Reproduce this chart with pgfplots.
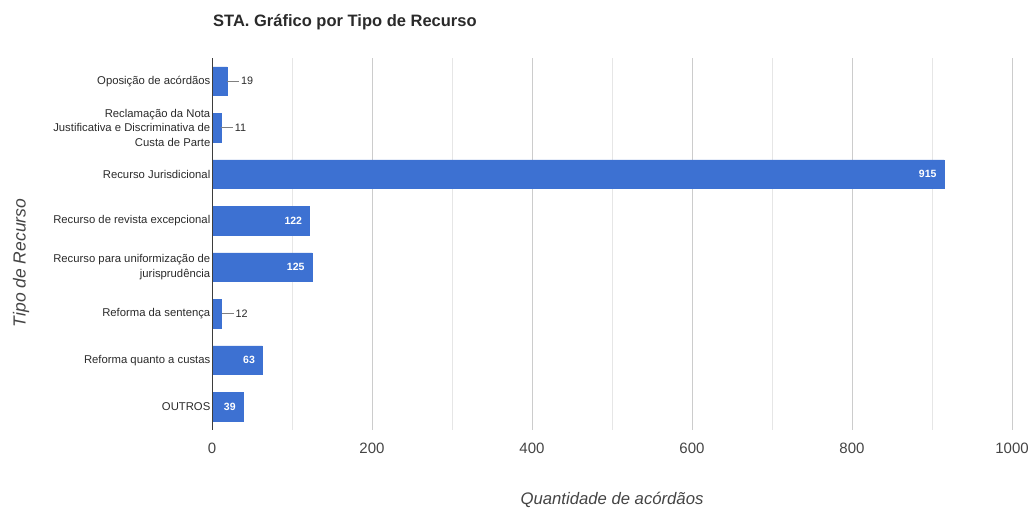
\documentclass[border=0pt]{standalone}
\usepackage{pgfplots}
\pgfplotsset{compat=1.18}
\usepackage{fontspec}
\setmainfont{Liberation Sans}
\definecolor{barblue}{HTML}{3D71D2}
\definecolor{txt}{HTML}{2A2A2A}
\definecolor{ticktxt}{HTML}{444444}
\definecolor{gridc}{HTML}{CCCCCC}
\definecolor{gridm}{HTML}{E6E6E6}
\begin{document}
\begin{tikzpicture}
\path[use as bounding box] (0pt,0pt) rectangle (1032pt,509pt);
\node[anchor=base west,font=\fontsize{16.5}{19}\selectfont\bfseries,text=txt,inner sep=0] at (213pt,482pt) {STA. Gráfico por Tipo de Recurso};
\node[rotate=90,font=\fontsize{17.5}{20}\selectfont\itshape,text=ticktxt] at (21pt,246pt) {Tipo de Recurso};
\node[font=\fontsize{16.7}{19}\selectfont\itshape,text=ticktxt] at (612pt,9pt) {Quantidade de acórdãos};
\begin{axis}[
  at={(212pt,79pt)}, anchor=south west,
  scale only axis, width=800pt, height=372pt,
  xbar, bar width=28.6pt, bar shift=0pt,
  xmin=0, xmax=1000,
  ymin=-0.5, ymax=7.5, y dir=reverse,
  ytick={0,...,7},
  yticklabels={Oposição de acórdãos,{Reclamação da Nota\\Justificativa e Discriminativa de\\Custa de Parte},Recurso Jurisdicional,Recurso de revista excepcional,{Recurso para uniformização de\\jurisprudência},Reforma da sentença,Reforma quanto a custas,OUTROS},
  yticklabel style={align=right,font=\fontsize{11.3}{14.7}\selectfont,text=txt,inner sep=1.5pt},
  xtick={0,200,...,1000},
  minor xtick={100,300,...,900},
  xmajorgrids, xminorgrids,
  major grid style={gridc,line width=0.8pt},
  minor grid style={gridm,line width=0.8pt},
  xticklabel style={font=\fontsize{15}{17}\selectfont,text=ticktxt,yshift=-9pt},
  /pgf/number format/assume math mode=true,
  /pgf/number format/1000 sep={},
  major tick length=0pt, minor tick length=0pt,
  axis line style={draw=none},
  clip=false,
]
\addplot[fill=barblue,draw=barblue,
  nodes near coords,
  every node near coord/.append style={anchor=east,xshift=-4pt,text=white,font=\fontsize{10.5}{12}\selectfont\bfseries}
] coordinates {(915,2) (122,3) (125,4) (63,6) (39,7)};
\addplot[fill=barblue,draw=barblue,
  nodes near coords={\textcolor{gray}{\rule[0.32em]{12pt}{0.7pt}}\,\pgfmathprintnumber{\pgfplotspointmeta}},
  every node near coord/.append style={anchor=west,inner sep=0pt,xshift=0pt,text=txt,font=\fontsize{10.8}{12}\selectfont}
] coordinates {(19,0) (11,1) (12,5)};
\draw[color=ticktxt!90!black,line width=1pt] (axis cs:0,-0.5) -- (axis cs:0,7.5);
\end{axis}
\end{tikzpicture}
\end{document}
